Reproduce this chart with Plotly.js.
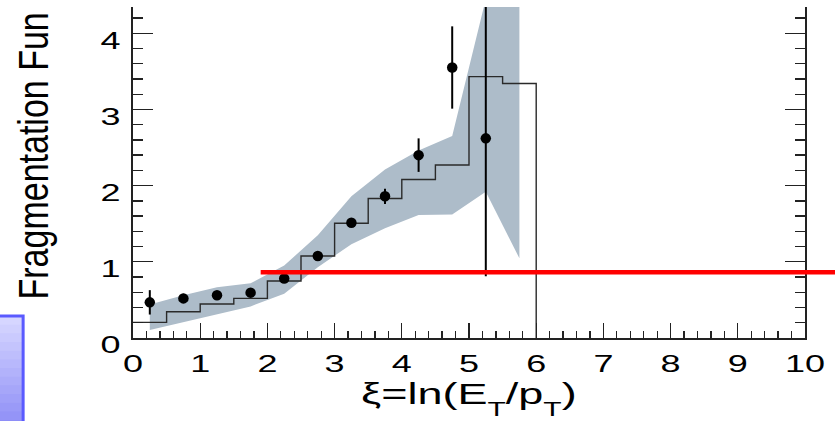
<!DOCTYPE html>
<html><head><meta charset="utf-8">
<script src="https://cdn.plot.ly/plotly-3.0.1.min.js"></script>
<style>html,body{margin:0;padding:0;background:#fff;overflow:hidden}#chart{width:835px;height:421px}</style>
</head><body><div id="chart"></div>
<script>
// ---- data ----
const binEdges   = [0, 0.5, 1, 1.5, 2, 2.5, 3, 3.5, 4, 4.5, 5, 5.5, 6];
const mcValues   = [0.205, 0.345, 0.446, 0.52, 0.748, 1.076, 1.505, 1.83, 2.08, 2.27, 3.43, 3.34];
const dataXi     = [0.25, 0.75, 1.25, 1.75, 2.25, 2.75, 3.25, 3.75, 4.25, 4.75, 5.25];
const dataValues = [0.468, 0.52, 0.56, 0.595, 0.78, 1.076, 1.513, 1.86, 2.40, 3.55, 2.62];
const dataErrors = [0.16, 0.06, 0.03, 0.03, 0.03, 0.03, 0.03, 0.10, 0.22, 0.54, 1.81];
const bandXi     = [0.25, 0.75, 1.25, 1.75, 2.25, 2.75, 3.25, 3.75, 4.25, 4.75, 5.25, 5.75];
const bandUpper  = [0.44, 0.56, 0.665, 0.717, 0.95, 1.35, 1.86, 2.21, 2.46, 2.65, 4.45, 6.0];
const bandLower  = [0.105, 0.214, 0.31, 0.415, 0.58, 0.93, 1.23, 1.44, 1.614, 1.62, 1.92, 1.046];
const xTickLabels = ['0','1','2','3','4','5','6','7','8','9','10'];
const yTickLabels = ['0','1','2','3','4'];
const xRange = [0, 10];
const yRange = [0, 4.344];
const refLevel = 0.862;   // red horizontal line
const refStart = 1.9;
const xTitle = 'ξ=ln(E<span style="font-size:20px;baseline-shift:-12px">T</span>/p<span style="font-size:20px;baseline-shift:-12px">T</span>)';
const yTitle = 'Fragmentation Fun';

const FONT = 'Liberation Sans, Arial, Helvetica, sans-serif';
const AX = '#222';

const bandTrace = {
  x: bandXi.concat(bandXi.slice().reverse()),
  y: bandUpper.concat(bandLower.slice().reverse()),
  type: 'scatter', mode: 'lines', fill: 'toself',
  fillcolor: '#adbcc9', line: {width: 0}, hoverinfo: 'skip'
};
const histTrace = {
  x: binEdges.concat([binEdges[binEdges.length - 1]]),
  y: mcValues.concat([mcValues[mcValues.length - 1], 0]),
  type: 'scatter', mode: 'lines',
  line: {shape: 'hv', color: '#2a2a2a', width: 1.4}
};
const pointTrace = {
  x: dataXi, y: dataValues, type: 'scatter', mode: 'markers',
  marker: {color: '#000', size: 10.5},
  error_y: {type: 'data', array: dataErrors, visible: true, width: 0, thickness: 2, color: '#000'}
};

// gradient box (decoration at lower left)
const shapes = [];
const boxX0 = -0.21, boxX1 = -0.1635, boxY0 = -0.30, boxY1 = 0.0665;
const nb = 14;
for (let i = 0; i < nb; i++) {
  const t = i / (nb - 1);
  const r = Math.round(214 - t * (214 - 136)), g = Math.round(214 - t * (214 - 136)), b = Math.round(255 - t * (255 - 246));
  shapes.push({type: 'rect', xref: 'paper', yref: 'paper', layer: 'above',
    x0: boxX0, x1: boxX1,
    y1: boxY1 - (boxY1 - boxY0) * i / nb, y0: boxY1 - (boxY1 - boxY0) * (i + 1) / nb - 0.002,
    fillcolor: `rgb(${r},${g},${b})`, line: {width: 0}});
}
shapes.push({type: 'rect', xref: 'paper', yref: 'paper', layer: 'above',
  x0: boxX0, x1: boxX1, y0: boxY0, y1: boxY1, fillcolor: 'rgba(0,0,0,0)',
  line: {color: '#5a5aff', width: 3}});
// red reference line
shapes.push({type: 'line', xref: 'paper', yref: 'y', layer: 'above',
  x0: (refStart - xRange[0]) / (xRange[1] - xRange[0]), x1: 1.06, y0: refLevel, y1: refLevel,
  line: {color: '#ff0000', width: 4.5}});

const layout = {
  width: 835, height: 421,
  margin: {l: 133, r: 30, t: 7, b: 83, autoexpand: false},
  paper_bgcolor: '#fff', plot_bgcolor: '#fff',
  showlegend: false,
  xaxis: {
    range: xRange, showgrid: false, zeroline: false,
    showline: true, linecolor: AX, linewidth: 1.6,
    ticks: 'inside', ticklen: 15, tickwidth: 1.3, tickcolor: AX,
    tickmode: 'array', tickvals: xTickLabels.map(Number), ticktext: xTickLabels,
    minor: {tickmode: 'linear', tick0: 0, dtick: 0.2, ticks: 'inside', ticklen: 7, tickwidth: 1.3, tickcolor: AX, showgrid: false},
    tickfont: {family: FONT, size: 24, color: '#000'},
    ticklabelstandoff: 4
  },
  yaxis: {
    range: yRange, showgrid: false, zeroline: false,
    showline: true, linecolor: AX, linewidth: 1.6, mirror: 'ticks',
    ticks: 'inside', ticklen: 20, tickwidth: 1.3, tickcolor: AX,
    tickmode: 'array', tickvals: yTickLabels.map(Number), ticktext: yTickLabels,
    minor: {tickmode: 'linear', tick0: 0, dtick: 0.2, ticks: 'inside', ticklen: 10, tickwidth: 1.3, tickcolor: AX, showgrid: false},
    tickfont: {family: FONT, size: 24, color: '#000'},
    ticklabelshift: 7, ticklabelstandoff: 6
  },
  shapes: shapes,
  annotations: [
    {text: xTitle, xref: 'paper', yref: 'paper', x: 0.5, y: -0.1117, xanchor: 'center', yanchor: 'top',
     showarrow: false, font: {family: FONT, size: 30, color: '#000'}},
    {text: yTitle, xref: 'paper', yref: 'paper', x: -0.1488, y: 0.1088, xanchor: 'center', yanchor: 'bottom',
     textangle: -90, showarrow: false, font: {family: FONT, size: 34, color: '#000'}}
  ]
};

function stretchX(el, s) {
  const bb = el.getBBox();
  const a = el.getAttribute('text-anchor') || 'start';
  const ax = a === 'end' ? bb.x + bb.width : (a === 'middle' ? bb.x + bb.width / 2 : bb.x);
  const t = el.getAttribute('transform') || '';
  el.setAttribute('transform', t + ` translate(${ax},0) scale(${s},1) translate(${-ax},0)`);
}
function stretchY(el, s) {
  const bb = el.getBBox();
  const cy = bb.y + bb.height / 2;
  const t = el.getAttribute('transform') || '';
  el.setAttribute('transform', t + ` translate(0,${cy}) scale(1,${s}) translate(0,${-cy})`);
}

const gd = document.getElementById('chart');
Plotly.newPlot(gd, [bandTrace, histTrace, pointTrace], layout, {staticPlot: true, displayModeBar: false}).then(function () {
  gd.querySelectorAll('.xtick text, .ytick text').forEach(el => stretchX(el, 1.5));
  const xt = gd.querySelector('.annotation[data-index="0"] text');
  if (xt) stretchX(xt, 1.5);
  const yt = gd.querySelector('.annotation[data-index="1"] text');
  if (yt) stretchY(yt, 1.27);
});
</script>
</body></html>
